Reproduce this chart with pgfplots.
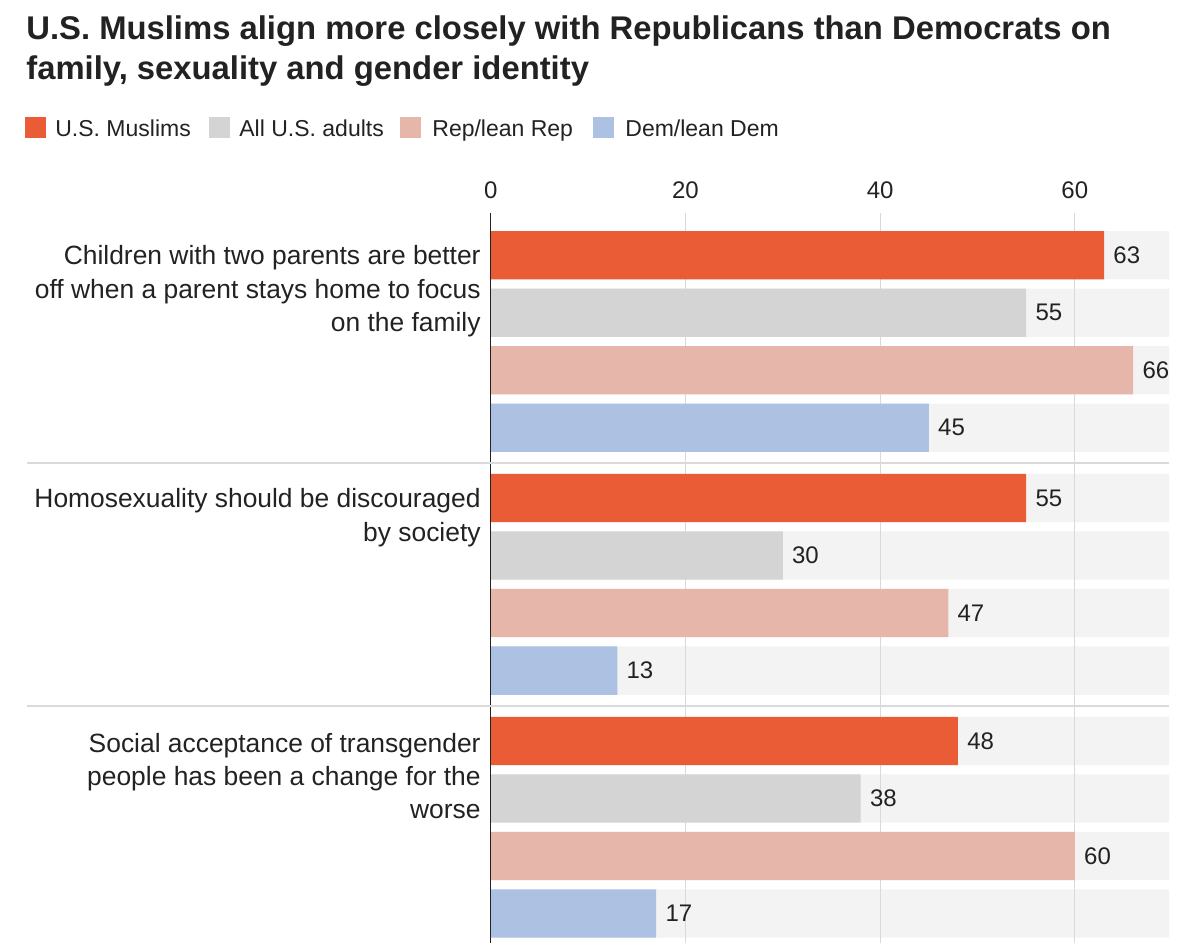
\documentclass[border=0pt]{standalone}
\usepackage{pgfplots}
\usepackage{pgfplotstable}
\pgfplotsset{compat=1.18}
\usepackage{fontspec}
\setmainfont{Liberation Sans}

\definecolor{muslim}{HTML}{E95C35}
\definecolor{alladults}{HTML}{D4D4D4}
\definecolor{rep}{HTML}{E7B6AB}
\definecolor{dem}{HTML}{ADC1E3}
\definecolor{track}{HTML}{F3F3F3}
\definecolor{gridc}{HTML}{D9D9D9}
\definecolor{sep}{HTML}{DADADA}
\definecolor{ink}{HTML}{222222}

% bar centre (vertical position) and share, one table per group of respondents
\pgfplotstableread{
pos val
255.2 63
498.1 55
741.0 48
}\muslims
\pgfplotstableread{
pos val
312.7 55
555.6 30
798.5 38
}\alladults
\pgfplotstableread{
pos val
370.2 66
613.1 47
856.0 60
}\repub
\pgfplotstableread{
pos val
427.7 45
670.6 13
913.5 17
}\democ

\pgfplotsset{
  hbar/.style={xbar, bar width=48.3, bar shift=0pt, draw=none},
  valued/.style={
    nodes near coords, point meta=x,
    every node near coord/.append style={anchor=west, inner sep=0pt, xshift=4.5pt,
      font=\fontsize{12}{14}\selectfont, text=ink},
  },
}

\begin{document}
\begin{tikzpicture}
\begin{axis}[
  x=4.8675pt, y=0.5pt, y dir=reverse,
  xmin=0, xmax=72.86, ymin=213, ymax=943,
  set layers,
  axis line style={draw=none},
  xtick={0,20,40,60}, ytick=\empty,
  xticklabel pos=right,
  major tick length=0pt,
  xmajorgrids, grid style={gridc, line width=0.5pt},
  ticklabel style={font=\fontsize{12}{14}\selectfont, text=ink, inner sep=0pt},
  /pgf/number format/assume math mode=true,
  xticklabel shift=7pt,
  clip=false,
]
% light tracks behind every bar
\addplot[hbar, fill=track, on layer=axis background] coordinates {
  (69.7,255.2) (69.7,312.7) (69.7,370.2) (69.7,427.7)
  (69.7,498.1) (69.7,555.6) (69.7,613.1) (69.7,670.6)
  (69.7,741.0) (69.7,798.5) (69.7,856.0) (69.7,913.5)
};
\addplot[hbar, valued, fill=muslim]    table[x=val, y=pos] {\muslims};
\addplot[hbar, valued, fill=alladults] table[x=val, y=pos] {\alladults};
\addplot[hbar, valued, fill=rep]       table[x=val, y=pos] {\repub};
\addplot[hbar, valued, fill=dem]       table[x=val, y=pos] {\democ};
\draw[ink, line width=0.6pt] (axis cs:0,213) -- (axis cs:0,943);
\coordinate (O) at (axis cs:0,0);
\end{axis}

\begin{scope}[shift={(O)}, xshift=-245.35pt, x=0.5pt, y=-0.5pt]
  \path (0,0) rectangle (1200,943);
  % title
  \begin{scope}[every node/.style={anchor=base west, inner sep=0pt, text=ink,
      font=\bfseries\fontsize{16.4}{19}\selectfont}]
    \node at (26,39.5) {U.S. Muslims align more closely with Republicans than Democrats on};
    \node at (26,80) {family, sexuality and gender identity};
  \end{scope}
  % legend
  \begin{scope}[every node/.style={anchor=base west, inner sep=0pt, text=ink,
      font=\fontsize{11.5}{13}\selectfont}]
    \fill[muslim]    (25,117) rectangle (46.5,138.5);
    \node at (55,137) {U.S. Muslims};
    \fill[alladults] (209,117) rectangle (230.5,138.5);
    \node at (239,137) {All U.S. adults};
    \fill[rep]       (400,117) rectangle (421.5,138.5);
    \node at (432,137) {Rep/lean Rep};
    \fill[dem]       (593,117) rectangle (614.5,138.5);
    \node at (625,137) {Dem/lean Dem};
  \end{scope}
  % group separators
  \draw[sep, line width=1pt] (27,463) -- (1169,463);
  \draw[sep, line width=1pt] (27,706) -- (1169,706);
  % statement labels
  \begin{scope}[every node/.style={anchor=base east, inner sep=0pt, text=ink,
      font=\fontsize{13.2}{16}\selectfont}]
    \node at (481,265)   {Children with two parents are better};
    \node at (481,298.5) {off when a parent stays home to focus};
    \node at (481,332)   {on the family};
    \node at (481,508)   {Homosexuality should be discouraged};
    \node at (481,541.5) {by society};
    \node at (481,752)   {Social acceptance of transgender};
    \node at (481,785)   {people has been a change for the};
    \node at (481,818)   {worse};
  \end{scope}
\end{scope}
\end{tikzpicture}
\end{document}
